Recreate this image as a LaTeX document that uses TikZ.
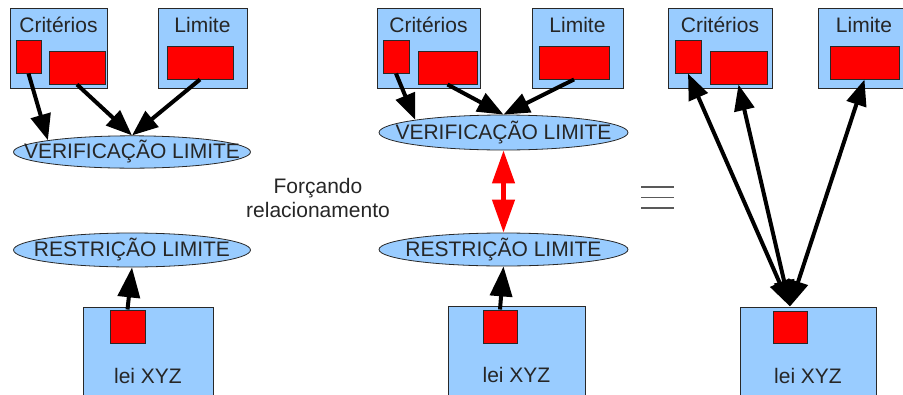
\documentclass[tikz,border=0pt]{standalone}
\usepackage{fontspec}
\setmainfont{Liberation Sans}
\usetikzlibrary{arrows.meta,shapes.geometric}
\definecolor{paleblue}{RGB}{153,204,255}
\definecolor{edge}{RGB}{40,40,40}
\begin{document}
\begin{tikzpicture}[x=1pt,y=-1pt]
                    \tikzset{every node/.style={font=\fontsize{21}{24}\selectfont, text=black!85, inner sep=0pt}}
                    \tikzset{box/.style={draw=edge, fill=paleblue, line width=1pt}}
                    \tikzset{redbox/.style={draw=edge, fill=red, line width=1pt}}
                    \tikzset{oval/.style={ellipse, draw=edge, fill=paleblue, line width=0.8pt}}
                    \tikzset{link/.style={line width=4pt, -{Triangle[length=26pt,width=20pt]}}}
                    \tikzset{uplink/.style={line width=4pt, -{Triangle[length=30pt,width=22pt]}}}
                    \tikzset{bothlink/.style={line width=4pt, {Triangle[length=26pt,width=20pt]}-{Triangle[length=26pt,width=20pt]}}}
                    \useasboundingbox (0,0) rectangle (903,394);
                    % first diagram
                    \node[box, minimum width=97pt, minimum height=80pt] (crit1) at (58.5,48) {};
                    \node[anchor=base] (crit1lbl) at (58.5,32) {Critérios};
                    \node[redbox, minimum width=25pt, minimum height=33pt] (crit1a) at (28.5,56.5) {};
                    \node[redbox, minimum width=56pt, minimum height=33pt] (crit1b) at (77,67.5) {};
                    \node[box, minimum width=89pt, minimum height=80pt] (lim1) at (202.5,48) {};
                    \node[anchor=base] (lim1lbl) at (202.5,32) {Limite};
                    \node[redbox, minimum width=66pt, minimum height=33pt] (lim1r) at (200,62.5) {};
                    \node[oval, minimum width=237pt, minimum height=31pt] (verif1) at (132,152) {\makebox[0pt]{VERIFICAÇÃO LIMITE}};
                    \node[oval, minimum width=237pt, minimum height=34pt] (restr1) at (132,250) {\makebox[0pt]{RESTRIÇÃO LIMITE}};
                    \node[box, minimum width=130pt, minimum height=91pt] (lei1) at (148,352.5) {};
                    \node[anchor=base] (lei1lbl) at (148,383) {lei XYZ};
                    \node[redbox, minimum width=35pt, minimum height=33pt] (lei1r) at (127.5,326.5) {};
                    \draw[link] (crit1a.south) -- (verif1.north west);
                    \draw[link] (crit1b.south) -- (verif1.north);
                    \draw[link] (lim1r.south) -- (verif1.north);
                    \draw[uplink] (lei1r.north) -- (restr1.south);
                    % forcing the relation
                    \node[align=center] (force) at (318,197.5) {Forçando\\relacionamento};
                    % second diagram
                    \node[box, minimum width=103pt, minimum height=80pt] (crit2) at (428.5,48) {};
                    \node[anchor=base] (crit2lbl) at (428.5,32) {Critérios};
                    \node[redbox, minimum width=26pt, minimum height=33pt] (crit2a) at (396,56.5) {};
                    \node[redbox, minimum width=59pt, minimum height=33pt] (crit2b) at (447.5,67.5) {};
                    \node[box, minimum width=91pt, minimum height=80pt] (lim2) at (577.5,48) {};
                    \node[anchor=base] (lim2lbl) at (577.5,32) {Limite};
                    \node[redbox, minimum width=70pt, minimum height=33pt] (lim2r) at (574,62.5) {};
                    \node[oval, minimum width=249pt, minimum height=35pt] (verif2) at (503.5,132.5) {\makebox[0pt]{VERIFICAÇÃO LIMITE}};
                    \node[oval, minimum width=249pt, minimum height=33pt] (restr2) at (503.5,249.5) {\makebox[0pt]{RESTRIÇÃO LIMITE}};
                    \node[box, minimum width=137pt, minimum height=92pt] (lei2) at (516.5,352) {};
                    \node[anchor=base] (lei2lbl) at (516.5,382) {lei XYZ};
                    \node[redbox, minimum width=34pt, minimum height=33pt] (lei2r) at (500,326.5) {};
                    \draw[link] (crit2a.south) -- (verif2.north west);
                    \draw[link] (crit2b.south) -- (verif2.north);
                    \draw[link] (lim2r.south) -- (verif2.north);
                    \draw[uplink] (lei2r.north) -- (restr2.south);
                    \draw[red, line width=4.5pt, {Triangle[length=33pt,width=22pt]}-{Triangle[length=33pt,width=22pt]}] (verif2.south) -- (restr2.north);
                    % equivalence sign
                    \foreach \y in {187,197.5,208}
                        \draw[black!65, line width=1.6pt] (641,\y) -- (674,\y);
                    % third diagram
                    \node[box, minimum width=104pt, minimum height=80pt] (crit3) at (720,48) {};
                    \node[anchor=base] (crit3lbl) at (720,32) {Critérios};
                    \node[redbox, minimum width=26pt, minimum height=33pt] (crit3a) at (688,56.5) {};
                    \node[redbox, minimum width=57pt, minimum height=33pt] (crit3b) at (738.5,67.5) {};
                    \node[box, minimum width=92pt, minimum height=80pt] (lim3) at (864,48) {};
                    \node[anchor=base] (lim3lbl) at (864,32) {Limite};
                    \node[redbox, minimum width=69pt, minimum height=33pt] (lim3r) at (864.5,62.5) {};
                    \node[box, minimum width=136pt, minimum height=91pt] (lei3) at (808,352.5) {};
                    \node[anchor=base] (lei3lbl) at (808,383) {lei XYZ};
                    \node[redbox, minimum width=34pt, minimum height=32pt] (lei3r) at (790,327) {};
                    \coordinate (lei3top) at (lei3r.north |- lei3.north);
                    \draw[bothlink] (lei3top) -- (crit3a.south);
                    \draw[bothlink] (lei3top) -- (crit3b.south);
                    \draw[bothlink] (lei3top) -- (lim3r.south);
\end{tikzpicture}
\end{document}
